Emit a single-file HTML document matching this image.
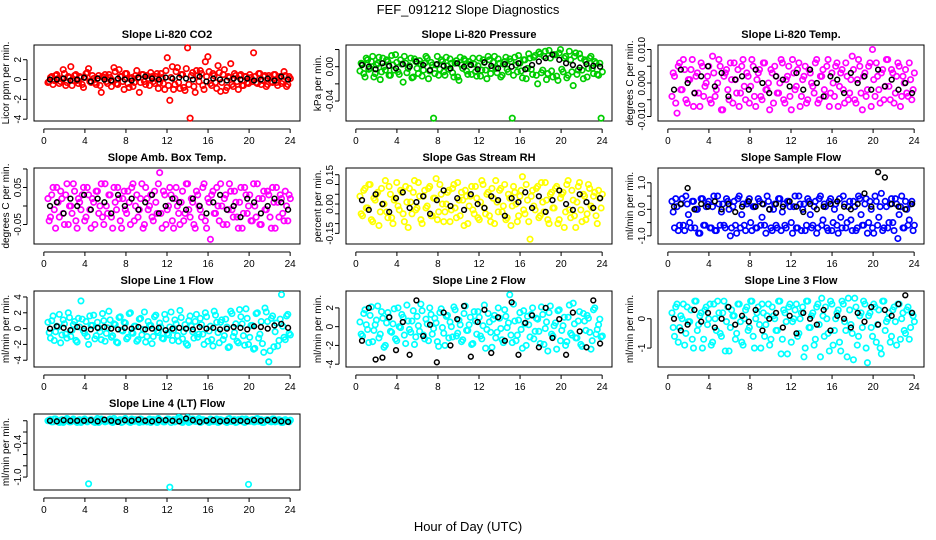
<!DOCTYPE html>
<html><head><meta charset="utf-8"><style>
body{margin:0;background:#fff;}
svg{display:block;font-family:"Liberation Sans",Arial,sans-serif;}
</style></head><body>
<svg id="chart" width="936" height="540" viewBox="0 0 936 540">
<rect width="936" height="540" fill="#fff"/>
<text x="468" y="14" font-size="13" text-anchor="middle">FEF_091212  Slope Diagnostics</text>
<text x="468" y="531" font-size="13" text-anchor="middle">Hour of Day (UTC)</text>
</svg>
<script>
const titles=["Slope Li-820 CO2","Slope Li-820 Pressure","Slope Li-820 Temp.","Slope Amb. Box Temp.","Slope Gas Stream RH","Slope Sample Flow","Slope Line 1 Flow","Slope Line 2 Flow","Slope Line 3 Flow","Slope Line 4 (LT) Flow"];
const yTitles=["Licor ppm per min.","kPa per min.","degrees C per min.","degrees C per min.","percent per min.","ml/min per min.","ml/min per min.","ml/min per min.","ml/min per min.","ml/min per min."];
const colors=["#ff0000","#00cd00","#ff00ff","#ff00ff","#ffff00","#0000ff","#00ffff","#00ffff","#00ffff","#00ffff"];
const yLims=[[-3.9,3.2],[-0.06,0.022],[-0.0105,0.0105],[-0.095,0.095],[-0.19,0.17],[-1.2,1.45],[-4.5,4.4],[-4.0,3.5],[-1.55,0.85],[-1.18,0.07]];
const yTicks=[[-4,-2,0,2],[-0.04,-0.02,0.00,0.02],[-0.010,-0.005,0.000,0.005,0.010],[-0.05,0.00,0.05,0.10],[-0.15,-0.10,-0.05,0.00,0.05,0.10,0.15],[-1.0,-0.5,0.0,0.5,1.0],[-4,-2,0,2,4],[-4,-2,0,2],[-1,0],[-1.0,-0.8,-0.6,-0.4,-0.2,0.0]];
const yTickLabels=[["-4","-2","0","2"],["-0.04","","0.00",""],["-0.010","","0.000","","0.010"],["-0.05","","0.05",""],["-0.15","","","0.00","","","0.15"],["-1.0","","0.0","","1.0"],["-4","-2","0","2","4"],["-4","-2","0","2"],["-1","0"],["-1.0","","","-0.4","",""]];
const xTicks=[0,4,8,12,16,20,24];
const s0=[-0.3,0.2,-0.5,0.4,0.1,-0.2,1.0,-0.6,0.3,1.3,-0.1,0.5,-0.4,0.2,-0.8,0.6,1.1,-0.3,0.1,-0.5,0.4,-1.3,0.2,-0.2,0.5,-0.7,1.2,-0.4,1.0,0.3,-1.0,0.6,-0.8,0.2,-0.3,0.9,-1.3,0.5,-0.2,0.4,-0.6,0.3,-0.4,0.6,-0.3,0.2,-1.0,2.2,-2.1,1.3,-0.5,1.2,-0.9,0.5,-1.1,3.2,-3.9,0.7,-1.3,0.4,0.9,-0.6,1.8,2.3,-0.4,0.6,-0.3,1.4,-1.2,0.5,-1.1,0.3,1.6,-0.7,0.4,-1.0,0.5,-0.6,0.3,-0.4,0.2,2.7,-0.3,0.6,-0.5,0.3,-0.7,0.4,-0.2,0.5,-0.3,0.2,-0.4,0.8,-0.7,0.3];
const s1=[-0.005,0.003,-0.012,0.008,-0.002,0.012,-0.008,0.004,-0.015,0.010,-0.004,0.006,-0.010,0.002,0.014,-0.006,0.008,-0.018,0.004,-0.002,0.010,-0.012,0.006,-0.008,0.003,-0.004,0.012,-0.014,0.005,-0.060,0.002,-0.010,0.008,-0.006,0.011,-0.003,0.004,-0.012,0.007,-0.016,0.002,0.009,-0.005,0.006,-0.009,0.003,-0.011,0.010,-0.004,0.005,-0.014,0.008,-0.002,0.012,-0.007,0.004,-0.010,0.006,-0.003,0.009,-0.060,0.011,-0.006,0.004,-0.013,0.008,-0.002,0.010,-0.009,0.013,-0.020,0.015,-0.004,0.018,-0.008,0.010,-0.012,0.014,-0.016,0.020,-0.006,0.012,-0.010,0.008,-0.022,0.016,-0.004,0.010,-0.014,0.006,-0.002,0.012,-0.008,0.004,-0.010,-0.060];
const s2=[-0.004,0.002,-0.009,0.006,-0.002,0.004,-0.006,0.001,0.007,-0.003,0.003,-0.007,0.005,-0.001,0.002,-0.005,0.008,-0.004,0.000,0.005,-0.008,0.003,-0.002,0.006,-0.006,0.001,0.004,-0.003,0.007,-0.005,0.002,-0.001,0.005,-0.007,0.003,-0.004,0.006,-0.002,0.000,0.004,-0.006,0.002,-0.003,0.007,-0.005,0.001,0.005,-0.008,0.003,-0.001,0.006,-0.004,0.002,-0.006,0.004,0.000,-0.003,0.007,-0.005,0.002,-0.002,0.005,-0.007,0.003,-0.004,0.006,-0.001,0.004,-0.006,0.002,-0.003,0.008,-0.005,0.001,0.005,-0.008,0.003,-0.002,0.006,0.010,-0.004,0.002,-0.006,0.004,-0.001,0.007,-0.005,0.003,-0.003,0.006,-0.007,0.002,0.004,-0.004,0.001,-0.002];
const s3=[0.02,-0.03,0.05,-0.06,0.01,0.04,-0.02,0.03,-0.05,0.00,0.06,-0.04,0.02,-0.01,0.05,-0.03,0.03,-0.06,0.01,0.04,-0.02,0.06,-0.05,0.00,0.03,-0.03,0.05,-0.01,0.02,-0.06,0.04,-0.02,0.01,0.05,-0.04,0.03,-0.01,0.06,-0.05,0.02,0.00,-0.03,0.04,-0.02,0.09,-0.06,0.03,-0.01,0.05,-0.04,0.02,0.00,-0.05,0.04,-0.02,0.06,-0.03,0.01,-0.06,0.03,-0.01,0.05,-0.04,0.02,-0.09,0.04,-0.02,0.00,0.06,-0.05,0.03,-0.01,0.04,-0.03,0.01,-0.06,0.05,-0.02,0.03,0.00,-0.04,0.06,-0.03,0.02,-0.05,0.04,-0.01,0.03,-0.06,0.01,0.05,-0.03,0.02,-0.04,0.00,0.03];
const s4=[0.04,-0.06,0.08,-0.02,0.10,-0.09,0.02,0.06,-0.04,0.00,0.12,-0.07,0.05,-0.10,0.03,-0.01,0.07,-0.05,0.09,-0.12,0.01,0.06,-0.03,0.11,-0.08,0.04,-0.02,0.08,-0.06,0.03,0.13,-0.04,0.05,-0.09,0.00,0.07,-0.03,0.10,-0.07,0.02,0.06,-0.11,0.04,-0.01,0.09,-0.05,0.03,-0.08,0.12,-0.02,0.05,-0.06,0.08,-0.10,0.01,0.07,-0.04,0.10,-0.07,0.03,-0.01,0.06,-0.09,0.04,0.14,-0.05,0.02,-0.18,0.07,-0.03,0.09,-0.06,0.01,0.11,-0.08,0.05,-0.02,0.08,-0.10,0.03,0.06,-0.04,0.12,-0.07,0.02,-0.12,0.09,-0.03,0.05,-0.08,0.10,-0.01,0.04,-0.06,0.07,-0.02];
const s5=[0.3,-0.7,0.1,-0.6,0.4,-0.8,0.2,-0.5,0.3,-0.7,0.0,-0.9,0.4,-0.6,0.2,-0.7,0.1,-0.8,0.5,-0.6,0.2,-0.7,0.3,-1.0,0.1,-0.6,0.4,-0.7,0.2,-0.8,0.3,-0.5,0.1,-0.7,0.4,-0.6,0.2,-0.9,0.3,-0.7,0.0,-0.6,0.4,-0.8,0.2,-0.7,0.3,-0.5,0.1,-0.7,0.5,-0.8,0.2,-0.6,0.3,-0.7,0.1,-0.9,0.4,-0.6,0.2,-0.7,0.3,-0.8,0.0,-0.6,0.4,-0.7,0.2,-0.5,0.3,-0.8,0.1,-0.7,0.4,-0.6,0.2,-0.9,0.3,-0.7,0.5,-0.6,0.1,-0.8,0.3,-0.7,0.2,-0.5,0.4,-1.1,0.1,-0.7,0.3,-0.6,0.2,-0.8];
const s6=[0.8,-1.2,1.6,-0.4,0.2,-1.8,1.1,-0.7,2.0,-1.0,0.5,-1.5,1.3,3.5,-0.3,0.9,-2.0,0.4,1.7,-0.9,0.1,-1.4,1.0,-0.6,2.2,-1.1,0.6,-1.7,1.4,-0.2,0.8,-1.3,1.9,-0.5,0.3,-1.6,1.2,-0.8,2.1,-1.0,0.4,-1.9,1.5,-0.3,0.7,-1.2,1.8,-0.6,0.2,-1.5,1.1,-0.9,2.3,-1.3,0.5,-2.1,1.6,-0.4,0.9,-1.1,1.3,-0.7,2.0,-1.6,0.3,-2.2,1.7,-0.5,0.8,-1.4,1.2,-2.4,2.2,-1.0,0.6,-1.8,1.5,-0.9,2.5,-2.0,0.4,-2.6,1.9,-1.2,0.9,-3.0,2.1,-4.2,1.3,-2.3,0.7,-1.5,4.3,-1.1,1.6,-0.6];
const s7=[0.5,-1.0,1.8,-0.3,1.2,-1.6,0.2,2.2,-0.8,0.9,-2.0,1.5,-0.5,0.3,-1.3,2.0,-0.1,1.0,-1.8,0.6,-0.6,1.7,-1.1,0.1,2.4,-0.9,0.8,-1.5,1.3,-0.2,0.4,-2.1,1.9,-0.7,1.1,-1.2,0.0,2.1,-1.0,0.7,-1.6,1.4,-0.4,0.2,-1.9,1.6,-0.8,1.0,-1.3,2.3,-0.3,0.5,-2.2,1.2,-0.6,0.9,-1.4,1.8,-0.1,3.4,-1.7,0.6,-0.9,1.5,-2.3,0.3,1.1,-1.1,2.0,-0.5,0.8,-1.8,1.3,-0.2,-2.6,2.2,-1.0,0.4,1.7,-1.5,0.1,-2.0,1.0,-0.7,2.5,-1.2,0.6,-1.9,1.4,-0.4,0.9,-2.4,1.8,-0.8,0.2,-1.1];
const s8=[0.2,-0.6,0.5,-0.3,0.0,-0.9,0.4,-0.1,-0.7,0.6,-0.4,0.1,-1.0,0.3,-0.2,0.5,-0.8,0.0,0.6,-0.5,0.2,-1.1,0.4,-0.3,0.1,-0.7,0.5,-0.1,-0.9,0.3,-0.4,0.6,-0.6,0.0,0.4,-1.0,0.2,-0.2,0.5,-0.7,0.1,-0.4,0.6,-1.2,0.3,-0.1,0.4,-0.8,0.0,0.5,-0.5,0.2,-1.3,0.6,-0.3,0.1,-0.9,0.4,-0.2,0.7,-0.6,0.0,-1.1,0.5,-0.4,0.2,-0.8,0.6,-0.1,-1.3,0.3,-0.5,0.7,-0.9,0.1,-0.3,0.5,-1.5,0.2,-0.6,0.4,-0.2,-1.0,0.6,-0.4,0.0,-0.8,0.3,-0.1,0.5,-0.7,0.2,-0.5,0.4,-0.3,0.1];
const s9=[0.00,0.02,-0.02,0.03,-0.01,0.01,-0.03,0.02,0.00,-0.02,0.03,-0.01,0.01,-0.03,0.02,0.00,-1.12,0.02,-0.02,0.01,-0.03,0.03,0.00,-0.01,0.02,-0.02,0.04,-0.01,0.01,-0.03,0.02,0.00,-0.02,0.03,-0.01,0.01,-0.03,0.02,0.00,-0.02,0.03,-0.01,0.01,-0.03,0.02,0.00,-0.02,0.03,-1.18,0.01,-0.02,0.03,0.05,-0.03,0.02,0.06,-0.02,0.03,-0.01,0.01,-0.03,0.02,0.00,-0.02,0.03,-0.01,0.01,-0.03,0.02,0.00,-0.02,0.03,-0.01,0.01,-0.03,0.02,0.00,-0.02,0.03,-1.13,0.01,-0.02,0.03,-0.01,0.02,-0.03,0.01,0.00,-0.02,0.03,-0.01,0.02,-0.03,0.01,0.00,-0.02];
const t0=[-0.2,0.3,-0.1,0.5,-0.4,0.1,0.6,-0.3,0.2,-0.6,0.4,-0.1,0.3,-0.5,0.2,0.7,-0.2,0.4,-0.3,0.1,-0.6,0.3,0.5,-0.4,0.2,-0.1,0.8,-0.5,0.3,-0.2,0.6,-0.4,0.1,-0.7,0.4,0.2,-0.3,0.5,-0.5,0.1,0.7,-0.2,0.3,-0.9,0.6,-0.4,0.9,-0.6,0.2,-1.0,0.8,-0.3,0.5,-0.8,1.1,-0.5,0.4,-0.7,0.9,-0.2,0.6,-1.0,0.3,0.8,-0.6,0.4,-0.9,0.7,-0.3,1.0,-0.8,0.2,-0.5,0.6,-0.2,0.4,-0.6,0.3,-0.3,0.5,-0.2,0.3,-0.4,0.6,-0.1,0.4,-0.5,0.2,-0.3,0.5,-0.6,0.3,-0.2,0.4,-0.5,0.1];
const t1=[0.004,-0.008,0.010,-0.003,0.006,-0.012,0.002,0.011,-0.006,0.000,0.008,-0.010,0.013,-0.004,0.005,-0.009,0.003,0.012,-0.007,0.001,-0.013,0.009,-0.002,0.007,-0.011,0.004,0.010,-0.005,0.002,-0.008,0.012,-0.003,0.006,-0.010,0.001,0.009,-0.007,0.004,-0.012,0.011,-0.002,0.007,-0.009,0.003,0.010,-0.006,0.001,-0.011,0.008,-0.004,0.012,-0.008,0.005,-0.002,0.009,-0.012,0.003,0.011,-0.006,0.006,-0.010,0.002,0.013,-0.005,0.008,-0.014,0.015,-0.003,0.011,-0.010,0.017,-0.007,0.012,-0.015,0.019,-0.005,0.014,-0.011,0.016,-0.003,0.010,-0.013,0.018,-0.006,0.012,-0.009,0.015,-0.004,0.008,-0.012,0.010,-0.002,0.006,-0.009,0.004,-0.006];
const t2=[0.003,-0.006,0.005,-0.002,0.007,-0.005,0.001,0.004,-0.007,0.002,-0.003,0.006,-0.004,0.000,0.005,-0.006,0.003,-0.002,0.007,-0.008,0.002,0.004,-0.005,0.001,0.006,-0.003,-0.007,0.005,-0.001,0.003,-0.006,0.007,-0.004,0.001,0.004,-0.005,0.006,-0.002,-0.008,0.003,0.005,-0.003,0.000,0.006,-0.006,0.002,-0.004,0.007,-0.002,0.004,-0.007,0.001,0.005,-0.005,0.003,-0.001,0.006,-0.006,0.002,0.004,-0.004,0.007,-0.003,0.000,0.005,-0.007,0.003,-0.002,0.006,-0.005,0.001,0.004,-0.006,0.007,-0.003,0.002,-0.004,0.005,-0.007,0.001,0.006,-0.002,0.003,-0.005,0.007,-0.001,0.004,-0.006,0.002,0.005,-0.004,0.000,-0.003,0.006,-0.005,0.003];
const t3=[-0.04,0.03,-0.01,0.05,-0.03,0.02,-0.05,0.06,0.00,-0.02,0.04,-0.06,0.01,0.03,-0.04,0.05,-0.01,0.02,-0.05,0.04,0.00,-0.03,0.06,-0.02,0.03,-0.06,0.01,0.05,-0.04,0.02,-0.01,0.04,-0.05,0.06,0.00,-0.03,0.02,-0.06,0.05,-0.01,0.03,-0.04,0.01,0.06,-0.02,0.04,-0.05,0.00,0.03,-0.06,0.05,-0.02,0.01,-0.04,0.06,-0.01,0.02,-0.05,0.04,0.00,-0.03,0.06,-0.06,0.01,0.03,-0.02,0.05,-0.04,0.00,0.02,-0.05,0.06,-0.01,0.04,-0.03,0.01,-0.06,0.05,-0.02,0.03,-0.04,0.00,0.06,-0.05,0.02,-0.01,0.04,-0.03,0.05,-0.06,0.01,0.03,-0.02,0.04,-0.04,0.02];
const t4=[-0.05,0.07,-0.02,0.10,-0.08,0.03,0.05,-0.11,0.08,0.00,-0.04,0.09,-0.07,0.02,0.11,-0.03,0.06,-0.09,0.01,0.08,-0.05,0.12,-0.02,0.04,-0.10,0.07,-0.01,0.09,-0.06,0.03,-0.08,0.10,0.00,-0.04,0.06,-0.09,0.08,-0.02,0.11,-0.06,0.02,0.07,-0.10,0.04,-0.03,0.09,-0.07,0.01,0.10,-0.05,0.06,-0.09,0.03,0.12,-0.04,0.08,-0.01,-0.08,0.05,-0.11,0.09,0.00,-0.06,0.07,-0.03,0.10,-0.09,0.04,-0.01,0.08,-0.07,0.11,-0.04,0.02,-0.10,0.06,-0.02,0.09,-0.08,0.05,-0.12,0.10,-0.03,0.07,-0.06,0.01,0.11,-0.09,0.04,-0.05,0.08,-0.02,0.06,-0.10,0.03,0.05];
const t5=[-0.1,0.4,-0.8,0.2,-0.6,0.5,-0.2,-0.7,0.3,0.0,-0.9,0.4,-0.6,0.1,0.3,-0.7,0.5,-0.8,0.2,-0.1,-0.6,0.4,0.0,-0.7,0.3,-0.9,0.5,-0.2,-0.6,0.2,0.4,-0.8,0.1,-0.7,0.3,-0.3,-0.6,0.5,0.0,-0.8,0.2,-0.7,0.4,-0.1,-0.6,0.3,0.1,-0.9,0.5,-0.7,0.2,0.0,-0.8,0.4,-0.2,-0.6,0.3,-0.7,0.5,-0.4,0.1,-0.8,0.4,-0.5,0.2,-0.9,-0.3,0.5,-0.7,0.1,-0.4,0.3,-0.8,0.5,-0.2,-0.6,0.4,-0.5,0.0,-0.9,0.3,-0.3,0.6,-0.7,0.1,-0.5,0.4,-0.8,0.2,-0.2,0.5,-0.7,0.0,-0.4,0.3,-0.6];
const t6=[-0.5,1.0,-1.5,0.3,1.8,-0.8,0.6,-1.2,1.4,-0.2,0.9,-1.7,0.2,1.2,-0.6,-1.0,1.6,0.4,-1.3,0.8,-0.4,1.9,-1.6,0.1,1.1,-0.9,0.5,-1.8,1.5,-0.3,0.7,-1.1,2.0,-0.6,0.3,-1.4,1.3,-0.1,-1.7,0.9,0.4,-1.0,1.7,-0.5,0.2,-1.3,1.2,-0.8,2.1,-0.2,0.6,-1.6,1.4,-0.4,-1.9,1.0,0.3,-1.2,1.8,-0.7,0.5,-2.0,1.5,-0.3,-1.4,2.2,0.8,-1.8,1.1,-0.9,0.2,-2.3,1.9,-0.5,-1.6,2.4,0.6,-2.1,1.3,-1.1,0.4,-2.5,2.0,-0.7,-1.9,2.6,0.9,-2.8,1.6,-0.4,-2.2,1.2,0.3,-1.4,1.8,-0.8];
const t7=[-0.8,1.4,0.2,-1.7,2.1,-0.4,0.7,-1.2,1.6,-2.2,0.4,1.0,-0.6,1.9,-1.5,0.0,1.3,-0.9,2.3,-0.3,0.6,-1.9,1.1,-0.5,1.7,-1.3,0.3,2.0,-0.8,0.9,-1.6,1.5,-0.1,-2.0,1.2,0.5,-1.1,1.8,-0.7,0.2,-1.4,2.2,-0.4,1.0,-1.8,0.6,1.6,-1.0,0.1,-2.3,1.4,-0.6,0.8,-1.2,2.0,-0.2,-1.7,1.1,0.4,-0.9,2.4,-1.5,0.7,-0.3,1.7,-2.0,0.2,1.3,-1.3,0.9,-0.5,2.1,-1.9,0.5,1.5,-0.8,0.1,-2.4,1.8,-0.4,1.0,-1.6,2.3,-0.9,0.3,-1.2,1.6,-2.1,0.6,1.2,-0.6,-1.5,2.0,-0.3,0.8,-1.0];
const t8=[-0.3,0.4,-0.8,0.1,0.5,-0.5,-0.1,0.3,-1.0,0.6,-0.2,0.2,-0.7,0.4,0.0,-0.9,0.5,-0.4,0.2,-0.6,0.6,-0.1,-1.1,0.3,0.1,-0.5,0.5,-0.8,0.0,0.4,-0.3,0.6,-1.0,0.2,-0.2,0.5,-0.6,0.1,-0.9,0.4,0.0,-0.4,0.6,-0.7,0.2,-1.2,0.5,-0.1,0.3,-0.6,0.0,0.4,-1.0,0.6,-0.3,0.2,-0.7,0.5,-1.3,0.1,0.4,-0.5,0.6,-0.9,0.0,0.3,-1.1,0.5,-0.4,0.7,-0.2,-1.4,0.4,-0.6,0.2,0.6,-1.0,0.1,-0.3,0.5,-0.8,0.3,-1.2,0.6,-0.1,0.2,-0.6,0.4,-0.9,0.5,0.0,-0.4,0.3,-0.7,0.2,-0.1];
const t9=[0.01,-0.02,0.03,0.00,-0.03,0.02,-0.01,0.04,-0.02,0.01,0.00,-0.03,0.02,-0.01,0.03,-0.02,0.01,0.00,-0.03,0.04,-0.01,0.02,-0.02,0.00,0.03,-0.03,0.01,-0.01,0.02,-0.02,0.04,0.00,-0.03,0.01,0.02,-0.01,0.03,-0.02,0.00,0.01,-0.03,0.02,-0.01,0.04,0.00,-0.02,0.01,0.03,-0.03,0.02,-0.01,0.06,-0.02,0.01,0.03,-0.03,0.00,0.02,-0.01,0.04,-0.02,0.01,0.00,-0.03,0.02,-0.01,0.03,-0.02,0.01,0.00,-0.03,0.04,-0.01,0.02,-0.02,0.00,0.03,-0.03,0.01,-0.01,0.02,-0.02,0.04,0.00,-0.03,0.01,0.02,-0.01,0.03,-0.02,0.00,0.01,-0.03,0.02,-0.01,0.01];
const b0=[0,0,0.1,-0.1,0,0.2,-0.2,0.1,0,-0.1,0.1,0,-0.1,0.2,0.3,0.1,0,0.2,0.1,0.2,0.1,0,0.3,-0.2,0.1,0,-0.1,0.1,0,0.1,-0.1,0,0.1,-0.1,0.3,0];
const b1=[0.002,0,-0.003,0.004,0.001,-0.002,0.003,0,0.006,0.002,-0.004,0.003,0.001,-0.002,0.004,0,0.002,-0.003,0.005,0.001,-0.002,0.003,0,0.004,-0.003,0.002,0.006,0.010,0.014,0.008,0.004,0.002,-0.001,0.003,0.001,0];
const b2=[-0.002,0.004,0.000,-0.003,0.002,0.005,-0.001,0.003,-0.004,0.001,0.002,-0.002,0.004,0.000,-0.003,0.002,0.001,-0.001,0.003,-0.002,0.004,0.000,-0.004,0.002,0.001,-0.003,0.003,0.000,0.002,-0.002,0.004,-0.001,0.001,-0.002,0.000,-0.003];
const b3=[0.00,0.01,-0.02,0.02,0.00,0.03,-0.01,0.02,0.01,-0.02,0.03,0.00,0.02,-0.01,0.01,0.03,-0.02,0.00,0.02,0.01,-0.01,0.02,0.00,-0.02,0.01,0.03,-0.01,0.00,-0.03,0.02,0.01,-0.02,0.00,0.02,0.01,-0.01];
const b4=[0.02,-0.03,0.05,0.00,-0.04,0.03,0.06,-0.02,0.01,0.04,-0.05,0.02,0.07,-0.01,0.03,-0.03,0.05,0.00,-0.02,0.04,0.02,-0.06,0.03,0.01,0.06,-0.02,0.04,-0.04,0.02,0.07,0.00,-0.03,0.05,0.01,-0.02,0.03];
const b5=[0.1,0.2,0.8,0.0,0.2,0.1,0.3,0.0,0.2,-0.1,0.1,0.3,0.1,0.2,0.0,0.2,0.1,0.3,0.1,-0.1,0.2,0.0,0.1,0.2,0.3,0.1,0.0,0.2,0.6,0.1,1.4,1.2,0.2,0.1,0.0,0.2];
const b6=[0.0,0.3,0.1,-0.2,0.2,0.0,-0.1,0.1,0.2,0.0,-0.1,0.1,0.0,0.2,-0.1,0.0,0.1,-0.2,0.0,0.1,0.0,-0.1,0.2,0.0,0.1,-0.1,0.0,0.2,0.1,-0.1,0.3,0.2,0.0,0.4,0.6,0.1];
const b7=[-1.5,2.0,-3.5,-3.3,1.0,-2.5,0.5,-3.0,2.8,-1.0,0.2,-3.8,1.5,-2.0,0.8,2.2,-3.2,0.5,1.8,-2.8,1.0,-1.5,2.6,-3.0,0.4,1.2,-2.2,2.0,-1.2,0.8,-3.0,1.5,-0.5,-2.2,2.8,-1.8];
const b8=[0.0,-0.4,-0.2,0.3,-0.1,0.2,-0.3,0.0,0.4,-0.2,0.1,-0.1,0.3,-0.4,0.0,0.2,-0.3,0.1,-0.5,0.2,0.0,-0.2,0.3,-0.4,0.1,0.0,-0.3,0.2,-0.1,0.4,-0.2,0.3,0.1,0.5,0.8,0.2];
const b9=[0.00,-0.01,0.01,0.00,0.00,0.00,0.01,-0.01,0.02,0.00,-0.02,0.01,0.00,0.02,0.00,-0.01,0.01,0.01,0.00,-0.01,0.04,0.01,-0.02,0.00,0.01,-0.01,0.00,0.00,0.00,-0.01,0.01,0.00,0.01,0.01,-0.01,-0.02];
const series=[s0,s1,s2,s3,s4,s5,s6,s7,s8,s9];
const series2=[t0,t1,t2,t3,t4,t5,t6,t7,t8,t9];
const blacks=[b0,b1,b2,b3,b4,b5,b6,b7,b8,b9];

const NS="http://www.w3.org/2000/svg";
const svg=document.getElementById("chart");
function mk(tag,attrs,parent){const e=document.createElementNS(NS,tag);for(const k in attrs)e.setAttribute(k,attrs[k]);(parent||svg).appendChild(e);return e;}
const W=266,H=76;
for(let p=0;p<10;p++){
  const c=p%3,r=Math.floor(p/3);
  const L=34+312*c,T=45+123*r;
  const g=mk("g",{});
  
  
  const [lo,hi]=yLims[p];
  const pad=(hi-lo)*0.04;
  const xs=v=>L+W*(v+0.96)/(24+1.92);
  const ys=v=>T+H-H*(v-(lo-pad))/((hi-lo)+2*pad);
  const t=mk("text",{x:L+W/2,y:T-7,"font-size":11,"font-weight":"bold","text-anchor":"middle"},g);
  t.textContent=titles[p];
  
  
  const yt=mk("text",{transform:`translate(${L-25},${T+H/2}) rotate(-90)`,"font-size":10,"text-anchor":"middle"},g);
  yt.textContent=yTitles[p];
  
  
  mk("line",{x1:xs(0),x2:xs(24),y1:T+H+8,y2:T+H+8,stroke:"#000"},g);
  xTicks.forEach(v=>{
    mk("line",{x1:xs(v),x2:xs(v),y1:T+H+8,y2:T+H+12,stroke:"#000"},g);
    const tx=mk("text",{x:xs(v),y:T+H+23,"font-size":10,"text-anchor":"middle"},g);
    tx.textContent=v;
    
    
  });
  const tk=yTicks[p];
  mk("line",{x1:L-7,x2:L-7,y1:ys(tk[0]),y2:ys(tk[tk.length-1]),stroke:"#000"},g);
  tk.forEach((v,i)=>{
    mk("line",{x1:L-11,x2:L-7,y1:ys(v),y2:ys(v),stroke:"#000"},g);
    const lab=yTickLabels[p][i];
    if(lab){
      const ty=mk("text",{transform:`translate(${L-13},${ys(v)}) rotate(-90)`,"font-size":10,"text-anchor":"middle"},g);
      ty.textContent=lab;
      
      
    }
  });
  const box=mk("rect",{x:L,y:T,width:W,height:H,fill:"none",stroke:"#000"},g);
  
  
  [series[p],series2[p]].forEach((s,k)=>{
    s.forEach((v,i)=>{
      const pt=mk("circle",{cx:xs(0.4+k*0.12+i*23.5/(s.length-1)),cy:ys(v),r:2.7,fill:"none",stroke:colors[p],"stroke-width":1.7},g);
      
      
    });
  });
  const b=blacks[p];
  b.forEach((v,i)=>{
    const pt=mk("circle",{cx:xs(0.6+i*23.2/(b.length-1)),cy:ys(v),r:2.4,fill:"none",stroke:"#000","stroke-width":1.5},g);
    
    
  });
}
</script>
</body></html>
